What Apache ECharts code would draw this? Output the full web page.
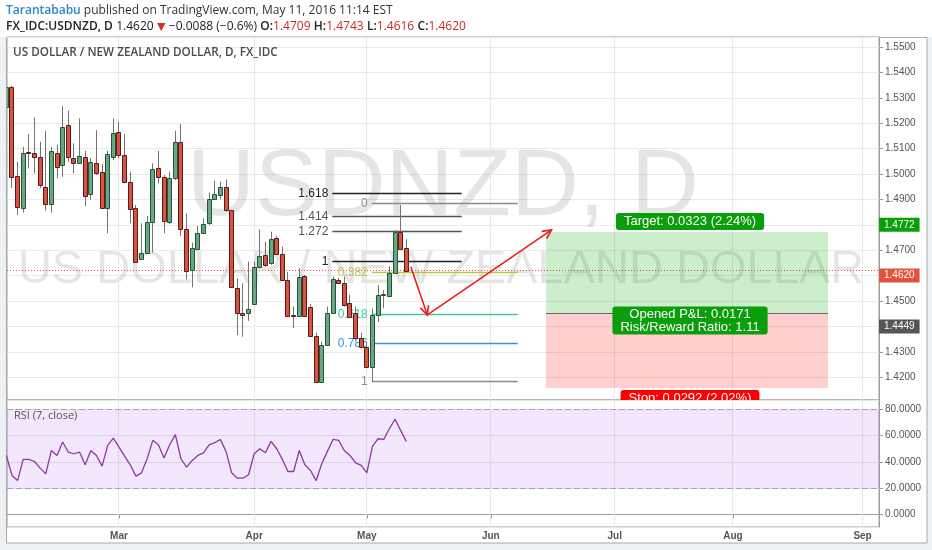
<!DOCTYPE html>
<html><head><meta charset="utf-8">
<script src="https://cdn.jsdelivr.net/npm/echarts@6/dist/echarts.min.js"></script>
<style>html,body{margin:0;padding:0;background:#fff;}#c{width:932px;height:550px;}</style>
</head><body><div id="c"></div>
<script>
// ---- data (daily bars, weekdays 2016-02-02 .. 2016-05-11) ----
const dates = ['02-02','02-03','02-04','02-05','02-08','02-09','02-10','02-11','02-12','02-15','02-16','02-17','02-18','02-19','02-22','02-23','02-24','02-25','02-26','02-29',
'03-01','03-02','03-03','03-04','03-07','03-08','03-09','03-10','03-11','03-14','03-15','03-16','03-17','03-18','03-21','03-22','03-23','03-24','03-25','03-28','03-29','03-30','03-31',
'04-01','04-04','04-05','04-06','04-07','04-08','04-11','04-12','04-13','04-14','04-15','04-18','04-19','04-20','04-21','04-22','04-25','04-26','04-27','04-28','04-29',
'05-02','05-03','05-04','05-05','05-06','05-09','05-10','05-11'];
const opens  = [1.5265,1.5344,1.4992,1.4865,1.5088,1.5082,1.5066,1.4948,1.4881,1.5082,1.5035,1.5193,1.5064,1.5042,1.5068,1.4920,1.5042,1.5009,1.4865,1.5068,
1.5167,1.5075,1.4970,1.4865,1.4664,1.4688,1.4812,1.5022,1.4987,1.4812,1.4983,1.5127,1.4782,1.4622,1.4706,1.4767,1.4808,1.4900,1.4917,1.4948,1.4858,1.4550,1.4452,
1.4452,1.4488,1.4633,1.4681,1.4648,1.4747,1.4685,1.4583,1.4445,1.4441,1.4599,1.4475,1.4362,1.4182,1.4327,1.4454,1.4583,1.4572,1.4491,1.4452,1.4353,
1.4318,1.4241,1.4445,1.4524,1.4520,1.4611,1.4773,1.4709];
const highs  = [1.5350,1.5348,1.5048,1.5107,1.5157,1.5223,1.5127,1.5170,1.5107,1.5114,1.5268,1.5249,1.5121,1.5219,1.5091,1.5062,1.5173,1.5039,1.5092,1.5219,
1.5206,1.5157,1.5009,1.4878,1.4806,1.4835,1.5042,1.5091,1.4996,1.5009,1.5170,1.5197,1.4845,1.4730,1.4795,1.4826,1.4926,1.4974,1.4970,1.4979,1.4858,1.4589,1.4570,
1.4655,1.4655,1.4782,1.4733,1.4773,1.4756,1.4714,1.4615,1.4478,1.4629,1.4602,1.4488,1.4375,1.4340,1.4478,1.4596,1.4589,1.4596,1.4524,1.4478,1.4375,
1.4336,1.4471,1.4563,1.4543,1.4635,1.4780,1.4878,1.4743];
const lows   = [1.5255,1.4945,1.4839,1.4848,1.5022,1.5003,1.4944,1.4855,1.4848,1.4983,1.4989,1.5048,1.5003,1.5042,1.4874,1.4898,1.4996,1.4865,1.4767,1.5055,
1.5062,1.4963,1.4806,1.4655,1.4661,1.4688,1.4690,1.4963,1.4767,1.4803,1.4976,1.4756,1.4585,1.4554,1.4700,1.4763,1.4799,1.4900,1.4900,1.4852,1.4554,1.4366,1.4359,
1.4422,1.4488,1.4633,1.4635,1.4642,1.4681,1.4583,1.4441,1.4393,1.4441,1.4438,1.4359,1.4178,1.4178,1.4323,1.4452,1.4570,1.4478,1.4432,1.4347,1.4314,
1.4235,1.4184,1.4418,1.4471,1.4517,1.4609,1.4701,1.4616];
const closes = [1.5344,1.4989,1.4869,1.5082,1.5082,1.5066,1.4957,1.4882,1.5091,1.5029,1.5186,1.5068,1.5042,1.5071,1.4915,1.5048,1.5005,1.4865,1.5079,1.5163,
1.5075,1.4970,1.4861,1.4655,1.4688,1.4812,1.5019,1.4987,1.4816,1.4983,1.5127,1.4782,1.4618,1.4707,1.4767,1.4803,1.4900,1.4921,1.4948,1.4858,1.4554,1.4452,1.4446,
1.4467,1.4633,1.4677,1.4642,1.4743,1.4685,1.4583,1.4441,1.4441,1.4596,1.4441,1.4362,1.4182,1.4327,1.4454,1.4585,1.4572,1.4484,1.4438,1.4353,1.4318,
1.4241,1.4445,1.4524,1.4528,1.4611,1.4773,1.4704,1.4620];
const rsi = [44.9,29.7,25.8,41.9,41.9,40.3,35.3,30.9,48.7,44.9,55.1,47.5,46.2,47.5,37.8,48.7,44.9,36.8,52.5,58.1,
51.3,44.4,37.8,29.2,31.7,42.4,56.4,53.0,42.9,53.0,60.7,42.4,36.0,41.1,44.9,46.9,53.0,54.6,57.1,48.0,31.7,27.6,27.6,
30.2,46.2,50.0,46.9,55.6,50.0,41.9,32.7,32.7,48.7,37.8,33.5,25.8,38.6,48.0,57.1,56.4,48.7,44.9,39.3,37.3,31.7,
52.0,57.6,57.1,65.2,72.4,64.0,55.6];
const monthIdx = [20,44,64,86,108,129,152];           // bar index of first trading day of each month
const monthNames = ['Mar','Apr','May','Jun','Jul','Aug','Sep'];
const rsiBands = [20,80];
const fibExtLabels = ['1','1.272','1.414','1.618'];
const fibExtPrices = [1.4655,1.4773,1.4832,1.4924];
const fibExtX = [57.87,80.84];
const fibRetLabels = ['0','0.382','0.618','0.786','1'];
const fibRetPrices = [1.4882,1.4614,1.4448,1.4333,1.4184];
const fibRetX = [64.87,90.79];
const lastPrice = 1.4620, entryPrice = 1.4449, targetPrice = 1.4772, stopPrice = 1.4157;
const positionX = [95.81,145.87];
const arrowPts = [[71.8,1.4635,74.74,1.4445],[74.74,1.4445,96.8,1.4780]];

// ---- styles ----
const fibExtColors = ['#222','#555','#555','#222'];
const fibRetColors = ['#8a8a8a','#b9c64e','#3fc9a2','#3a93d6','#8a8a8a'];
const F = '"Liberation Sans", Arial, sans-serif';

const candleData = opens.map((o,i)=>[i,o,closes[i],lows[i],highs[i]]);
const rsiData = rsi.map((v,i)=>[i,v]);
const fibData = fibExtPrices.map((p,i)=>[fibExtX[0],fibExtX[1],p,0,i])
  .concat(fibRetPrices.map((p,i)=>[fibRetX[0],fibRetX[1],p,1,i]));

function crisp(v){return Math.round(v-0.5)+0.5;}

function renderCandle(params, api){
  const i=api.value(0), o=api.value(1), c=api.value(2), l=api.value(3), h=api.value(4);
  const pH=api.coord([i,h]), pL=api.coord([i,l]), pO=api.coord([i,o]), pC=api.coord([i,c]);
  const up = c>=o;
  const x = crisp(pH[0]);
  const top = Math.round(Math.min(pO[1],pC[1]))+0.5, bot = Math.round(Math.max(pO[1],pC[1]))+0.5;
  return {type:'group', children:[
    {type:'line', shape:{x1:x,y1:pH[1],x2:x,y2:pL[1]}, style:{stroke:'#737375',lineWidth:1}},
    {type:'rect', shape:{x:x-2,y:top,width:4,height:Math.max(bot-top,1)},
     style:{fill:up?'#6ba583':'#d75442', stroke:up?'#225437':'#5b1a13', lineWidth:1}}
  ]};
}
function renderVGrid(params, api){
  const cs = params.coordSys;
  const x = crisp(api.coord([api.value(0), api.value(1)])[0]);
  return {type:'line', shape:{x1:x,y1:cs.y,x2:x,y2:cs.y+cs.height}, style:{stroke:'#e8e8e8',lineWidth:1}};
}
function renderHLine(params, api){
  const cs = params.coordSys;
  const y = crisp(api.coord([0, api.value(0)])[1]);
  return {type:'line', shape:{x1:cs.x,y1:y,x2:cs.x+cs.width,y2:y}, style:{stroke:'#e0533f',lineWidth:1,lineDash:[1,2]}};
}
function renderBand(params, api){
  const cs = params.coordSys;
  const yLo = crisp(api.coord([0, rsiBands[0]])[1]), yHi = crisp(api.coord([0, rsiBands[1]])[1]);
  return {type:'group', children:[
    {type:'rect', shape:{x:cs.x,y:yHi,width:cs.width,height:yLo-yHi}, style:{fill:'rgba(150,40,235,0.11)'}},
    {type:'line', shape:{x1:cs.x,y1:yHi,x2:cs.x+cs.width,y2:yHi}, style:{stroke:'#aaa2ae',lineWidth:1,lineDash:[6,3]}},
    {type:'line', shape:{x1:cs.x,y1:yLo,x2:cs.x+cs.width,y2:yLo}, style:{stroke:'#aaa2ae',lineWidth:1,lineDash:[6,3]}}
  ]};
}
function renderFib(params, api){
  const x0=api.value(0), x1=api.value(1), p=api.value(2), kind=api.value(3), k=api.value(4);
  const a=api.coord([x0,p]), b=api.coord([x1,p]);
  const y=crisp(a[1]);
  const col = kind===0 ? fibExtColors[k] : fibRetColors[k];
  const lab = kind===0 ? fibExtLabels[k] : fibRetLabels[k];
  return {type:'group', children:[
    {type:'line', shape:{x1:a[0],y1:y,x2:b[0],y2:y}, style:{stroke:col,lineWidth:1.5}},
    {type:'text', x:a[0]-4, y:y, style:{text:lab, fill:col, font:'12px '+F, align:'right', verticalAlign:'middle'}}
  ]};
}
function renderArrow(params, api){
  const a=api.coord([api.value(0),api.value(1)]), b=api.coord([api.value(2),api.value(3)]);
  const ang=Math.atan2(b[1]-a[1], b[0]-a[0]), L=10, s=0.45;
  const h1=[b[0]-L*Math.cos(ang-s), b[1]-L*Math.sin(ang-s)];
  const h2=[b[0]-L*Math.cos(ang+s), b[1]-L*Math.sin(ang+s)];
  return {type:'group', children:[
    {type:'line', shape:{x1:a[0],y1:a[1],x2:b[0],y2:b[1]}, style:{stroke:'#f01c1c',lineWidth:1.6}},
    {type:'polyline', shape:{points:[h1,b,h2]}, style:{stroke:'#f01c1c',lineWidth:1.6,fill:null}}
  ]};
}
const tgtDiff = targetPrice-entryPrice, stpDiff = entryPrice-stopPrice;
const targetText = 'Target: '+tgtDiff.toFixed(4)+' ('+(tgtDiff/entryPrice*100).toFixed(2)+'%)';
const pnlText = 'Opened P&L: '+(lastPrice-entryPrice).toFixed(4)+'\nRisk/Reward Ratio: '+(tgtDiff/stpDiff).toFixed(2);
const stopText = 'Stop: '+stpDiff.toFixed(4)+' ('+(stpDiff/entryPrice*100).toFixed(2)+'%)';
function renderPosition(params, api){
  const x0=api.value(0), x1=api.value(1), e=api.value(2), t=api.value(3), s=api.value(4);
  const pT=api.coord([x0,t]), pE=api.coord([x1,e]), pS=api.coord([x1,s]);
  const left=pT[0], right=pE[0], yT=pT[1], yE=crisp(pE[1]), yS=pS[1];
  const cx=(left+right)/2+3;
  const font='13px '+F;
  return {type:'group', children:[
    {type:'rect', shape:{x:left,y:yT,width:right-left,height:yE-yT}, style:{fill:'rgba(0,170,0,0.2)'}},
    {type:'rect', shape:{x:left,y:yE,width:right-left,height:yS-yE}, style:{fill:'rgba(255,0,0,0.19)'}},
    {type:'line', shape:{x1:left,y1:yE,x2:right,y2:yE}, style:{stroke:'#666',lineWidth:1}},
    {type:'text', x:cx, y:yT-19, style:{text:targetText, fill:'#fff', font, align:'center', verticalAlign:'top',
      backgroundColor:'#0a9e0a', padding:[1,8,1,8], borderRadius:3, lineHeight:15}},
    {type:'text', x:cx, y:yE-7, style:{text:pnlText, fill:'#fff', font, align:'center', verticalAlign:'top',
      backgroundColor:'#0a9e0a', padding:[1,8,1,8], borderRadius:3, lineHeight:13}},
    {type:'text', x:cx, y:yS+2, style:{text:stopText, fill:'#fff', font, align:'center', verticalAlign:'top',
      backgroundColor:'#f00', padding:[1,8,1,8], borderRadius:3, lineHeight:15}}
  ]};
}
function priceTag(val, bg){
  return {yAxis:val, lineStyle:{color:'rgba(0,0,0,0)', width:1},
    label:{show:true, position:'end', distance:0, formatter:val.toFixed(4), color:'#fff', backgroundColor:bg,
      fontSize:10, fontFamily:F, padding:[2,5,1,5], lineHeight:11}};
}

const chart = echarts.init(document.getElementById('c'));
chart.setOption({
  animation:false,
  backgroundColor:'#fff',
  grid:[
    {left:7, right:53, top:37, height:363, show:true, borderColor:'#9d9d9d', borderWidth:1},
    {left:7, right:53, top:400, height:127, show:true, borderColor:'#9d9d9d', borderWidth:1}
  ],
  xAxis:[
    {type:'value', gridIndex:0, min:0.12, max:154.92, axisLine:{show:false}, axisTick:{show:false}, axisLabel:{show:false}, splitLine:{show:false}},
    {type:'value', gridIndex:1, min:0.12, max:154.92, axisLine:{show:true, lineStyle:{color:'#9d9d9d'}},
     axisTick:{show:true, customValues:monthIdx, length:4, lineStyle:{color:'#9d9d9d'}},
     axisLabel:{show:true, customValues:monthIdx, formatter:v=>monthNames[monthIdx.indexOf(Math.round(v))]||'',
       fontSize:10, fontWeight:'bold', color:'#555', fontFamily:F, margin:4},
     splitLine:{show:false}}
  ],
  yAxis:[
    {type:'value', gridIndex:0, position:'right', min:1.41102, max:1.55394, minInterval:0.01, maxInterval:0.01,
     axisLine:{show:true, lineStyle:{color:'#9d9d9d'}}, axisTick:{show:true, length:4, lineStyle:{color:'#9d9d9d'}},
     axisLabel:{formatter:v=>v.toFixed(4), fontSize:10, color:'#555', fontFamily:F, margin:6, showMinLabel:false, showMaxLabel:false},
     splitLine:{show:true, lineStyle:{color:'#eaeaea'}}},
    {type:'value', gridIndex:1, position:'right', min:-9.5, max:87.07, minInterval:20, maxInterval:20,
     axisLine:{show:true, lineStyle:{color:'#9d9d9d'}}, axisTick:{show:true, length:4, lineStyle:{color:'#9d9d9d'}},
     axisLabel:{formatter:v=>v.toFixed(4), fontSize:10, color:'#555', fontFamily:F, margin:6, showMinLabel:false, showMaxLabel:false},
     splitLine:{show:true, lineStyle:{color:'#e6e6e6'}}}
  ],
  graphic:[
    {type:'rect', z:0, shape:{x:0,y:37,width:6,height:513}, style:{fill:'#eef1f4'}},
    {type:'rect', z:0, shape:{x:927,y:37,width:5,height:513}, style:{fill:'#eef1f4'}},
    {type:'rect', z:0, shape:{x:0,y:543,width:932,height:7}, style:{fill:'#eef1f4'}},
    {type:'rect', z:0, shape:{x:6.5,y:37.5,width:920.5,height:505.5}, style:{fill:null, stroke:'#a8a8a8', lineWidth:1}},
    {type:'text', z:1, x:443, y:189, style:{text:'USDNZD, D', font:'94px '+F, fill:'rgba(0,0,0,0.1)', align:'center', verticalAlign:'middle'}},
    {type:'text', z:1, x:441, y:270, style:{text:'US DOLLAR / NEW ZEALAND DOLLAR', font:'47px '+F, fill:'rgba(0,0,0,0.1)', align:'center', verticalAlign:'middle'}},
    {type:'text', z:10, x:13, y:53, style:{text:'US DOLLAR / NEW ZEALAND DOLLAR, D, FX_IDC', font:'600 11.7px "Open Sans", sans-serif', fill:'#4a4a4a', verticalAlign:'middle'}},
    {type:'text', z:10, x:14, y:416, style:{text:'RSI (7, close)', font:'11px "Open Sans", sans-serif', fill:'#555', verticalAlign:'middle'}},
    {type:'text', z:10, x:6, y:11, style:{text:'{a|Tarantababu}{b| published on TradingView.com, May 11, 2016 11:14 EST}', verticalAlign:'middle',
      rich:{a:{font:'600 12px "Open Sans", sans-serif', fill:'#2686c9'}, b:{font:'12px "Open Sans", sans-serif', fill:'#333'}}}},
    {type:'text', z:10, x:6, y:27, style:{text:'{k|FX_IDC:USDNZD, D} {n|1.4620} {r|▼} {n|\u22120.0088 (\u22120.6%)} {k|O:}{v|1.4709} {k|H:}{v|1.4743} {k|L:}{v|1.4616} {k|C:}{v|1.4620}', verticalAlign:'middle',
      rich:{k:{font:'600 12px "Open Sans", sans-serif', fill:'#222'}, n:{font:'12px "Open Sans", sans-serif', fill:'#222'},
            r:{font:'11px "DejaVu Sans", sans-serif', fill:'#d32f2f'}, v:{font:'12px "Open Sans", sans-serif', fill:'#cc2929'}}}}
  ],
  series:[
    {type:'custom', name:'vgrid0', xAxisIndex:0, yAxisIndex:0, z:1, silent:true, renderItem:renderVGrid, data:monthIdx.map(v=>[v,1.45])},
    {type:'custom', name:'vgrid1', xAxisIndex:1, yAxisIndex:1, z:1, silent:true, renderItem:renderVGrid, data:monthIdx.map(v=>[v,50])},
    {type:'custom', name:'rsiBand', xAxisIndex:1, yAxisIndex:1, z:2, silent:true, renderItem:renderBand, data:[[0]]},
    {type:'custom', name:'lastLine', xAxisIndex:0, yAxisIndex:0, z:2, silent:true, renderItem:renderHLine, data:[[lastPrice]]},
    {type:'custom', name:'position', xAxisIndex:0, yAxisIndex:0, z:3, clip:true, silent:true, renderItem:renderPosition,
     data:[[positionX[0],positionX[1],entryPrice,targetPrice,stopPrice]],
     markLine:{silent:true, symbol:['none','none'], lineStyle:{color:'rgba(0,0,0,0)'},
       data:[priceTag(targetPrice,'#0a9e0a'), priceTag(entryPrice,'#555'), priceTag(lastPrice,'#e0533f')]}},
    {type:'custom', name:'fib', xAxisIndex:0, yAxisIndex:0, z:4, clip:true, silent:true, renderItem:renderFib, data:fibData},
    {type:'custom', name:'USDNZD', xAxisIndex:0, yAxisIndex:0, z:5, clip:true, renderItem:renderCandle, data:candleData},
    {type:'custom', name:'arrows', xAxisIndex:0, yAxisIndex:0, z:6, clip:true, silent:true, renderItem:renderArrow, data:arrowPts},
    {type:'line', name:'RSI', xAxisIndex:1, yAxisIndex:1, z:5, data:rsiData, showSymbol:false, clip:true,
     lineStyle:{color:'#8e3a9e', width:1.3}}
  ]
});
</script></body></html>
